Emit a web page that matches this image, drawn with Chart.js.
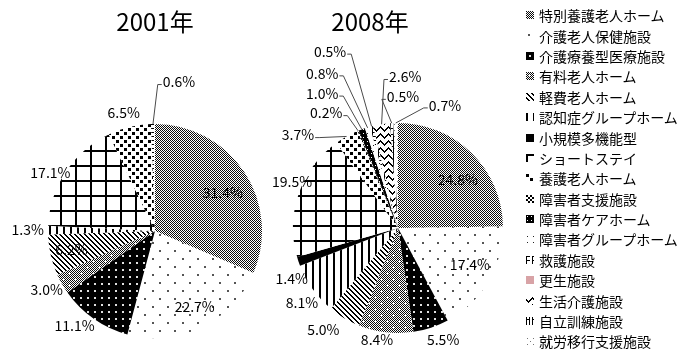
<!DOCTYPE html>
<html>
<head>
<meta charset="utf-8">
<script src="https://cdn.jsdelivr.net/npm/chart.js@4.4.1/dist/chart.umd.min.js"></script>
<style>
  html, body { margin: 0; padding: 0; background: #fff; }
  #wrap { position: relative; width: 696px; height: 351px; overflow: hidden;
          font-family: "Noto Sans CJK JP", sans-serif; }
  #c2001 { position: absolute; left: 0; top: 0; }
  #c2008 { position: absolute; left: 270px; top: 0; }
  #legend { position: absolute; left: 526px; top: 5px; }
  .item { height: 20.4px; display: flex; align-items: center; font-size: 14px;
          color: #000; white-space: nowrap; }
  .item canvas { width: 8px; height: 8px; margin-right: 5px; flex: none; }
</style>
</head>
<body>
<div id="wrap">
  <canvas id="c2001" width="270" height="351"></canvas>
  <canvas id="c2008" width="256" height="351"></canvas>
  <div id="legend"></div>
</div>
<script>
// Facility types, in the order the slices run clockwise from 12 o'clock
const categories = [
  '特別養護老人ホーム', '介護老人保健施設', '介護療養型医療施設', '有料老人ホーム',
  '軽費老人ホーム', '認知症グループホーム', '小規模多機能型', 'ショートステイ',
  '養護老人ホーム', '障害者支援施設', '障害者ケアホーム', '障害者グループホーム',
  '救護施設', '更生施設', '生活介護施設', '自立訓練施設', '就労移行支援施設'
];

// Share of each facility type (%)
const share2001 = [31.4, 22.7, 11.1, 3.0, 6.2, 1.3, 0, 17.1, 6.5, 0, 0, 0, 0.6, 0, 0, 0, 0];
const share2008 = [24.8, 17.4, 5.5, 8.4, 5.0, 8.1, 1.4, 19.5, 3.7, 0.2, 1.0, 0.8, 0.5, 0, 2.6, 0.5, 0.7];

const titles = ['2001年', '2008年'];

// Label placement: [angle nudge from slice middle (deg), distance as a fraction of the radius]
const labelPlace2001 = [[3.7, 0.73], [-1.7, 0.80], [5.4, 1.16], [1.3, 1.15], [0.6, 0.80], [0.3, 1.19], null,
  [-4.4, 1.12], [-1.0, 1.14], null, null, null, [10.2, 1.41], null, null, null, null];
const labelPlace2008 = [[6.7, 0.73], [-3.3, 0.77], [-3.6, 1.15], [4.0, 1.08], [5.6, 1.20], [-2.3, 1.16], [-6.7, 1.12],
  [4.5, 1.10], [-17.8, 1.30], [-9.7, 1.29], [-9.3, 1.47], [-9.2, 1.64], [-6.5, 1.80], null,
  [11.7, 1.44], [5.6, 1.25], [22.2, 1.25]];
// Which labels get a leader line back to their slice
const leader2001 = [12];
const leader2008 = [8, 9, 10, 11, 12, 14, 15, 16];

// ---- pattern tiles ----
function tile(w, h, draw) {
  const c = document.createElement('canvas');
  c.width = w; c.height = h;
  const g = c.getContext('2d');
  g.fillStyle = '#fff';
  g.fillRect(0, 0, w, h);
  draw(g, w, h);
  return c;
}
function dots(g, color, list, s) {
  g.fillStyle = color;
  list.forEach(p => g.fillRect(p[0], p[1], s, s));
}
function checkerBase(g, w, h, dark) {
  g.fillStyle = dark;
  for (let y = 0; y < h; y++) for (let x = 0; x < w; x++) if ((x + y) % 2 === 0) g.fillRect(x, y, 1, 1);
}
function plus(g, cx, cy) {
  g.fillStyle = '#fff';
  g.fillRect(cx - 1, cy, 3, 1);
  g.fillRect(cx, cy - 1, 1, 3);
}

const tiles = [
  tile(2, 2, (g, w, h) => checkerBase(g, w, h, '#0c0c0c')),                       // fine checker
  tile(15, 16, g => dots(g, '#555', [[2, 2], [9, 10]], 2)),                       // sparse dots
  tile(7, 7, g => { g.fillStyle = '#000'; g.fillRect(0, 0, 7, 7); dots(g, '#e0e0e0', [[3, 3]], 2); }),
  tile(12, 12, (g, w, h) => { checkerBase(g, w, h, '#0c0c0c'); plus(g, 3, 3); plus(g, 9, 9); }),
  tile(5, 5, g => { g.fillStyle = '#000';
    for (let y = 0; y < 5; y++) for (let x = 0; x < 5; x++) if (((x - y) % 5 + 5) % 5 < 2) g.fillRect(x, y, 1, 1); }),
  tile(7, 1, g => { g.fillStyle = '#000'; g.fillRect(0, 0, 2, 1); }),             // vertical lines
  tile(1, 1, g => { g.fillStyle = '#000'; g.fillRect(0, 0, 1, 1); }),             // solid
  tile(15, 15, g => { g.fillStyle = '#000'; g.fillRect(0, 0, 15, 2); g.fillRect(0, 0, 2, 15); }),
  tile(8, 8, g => dots(g, '#000', [[0, 0], [4, 4]], 3)),                          // small squares
  tile(4, 4, g => { g.fillStyle = '#000'; g.fillRect(0, 0, 2, 2); g.fillRect(2, 2, 2, 2); }),
  tile(4, 4, g => { g.fillStyle = '#000'; g.fillRect(0, 0, 4, 4); g.fillStyle = '#fff'; g.fillRect(1, 1, 1, 1); }),
  tile(6, 6, g => dots(g, '#222', [[1, 1]], 1)),
  tile(6, 4, g => { g.fillStyle = '#000'; g.fillRect(0, 0, 4, 1); g.fillRect(0, 0, 1, 4); }),
  tile(1, 1, g => { g.fillStyle = '#d8a3a6'; g.fillRect(0, 0, 1, 1); }),
  tile(8, 7, g => { g.fillStyle = '#000';
    for (let x = 0; x < 8; x++) { const y = Math.round(3 + 1.6 * Math.sin(2 * Math.PI * x / 8)); g.fillRect(x, y - 1, 1, 2); } }),
  tile(6, 6, g => { g.fillStyle = '#000'; g.fillRect(0, 0, 1, 6); g.fillRect(3, 0, 1, 6); g.fillRect(0, 2, 4, 1); }),
  tile(6, 6, g => dots(g, '#777', [[1, 1], [4, 4]], 1))
];

const probe = document.createElement('canvas').getContext('2d');
const fills = tiles.map(t => probe.createPattern(t, 'repeat'));

// ---- labels, leader lines and title drawn over each pie ----
function pieNotes(values, place, leaders, title, titleX) {
  return {
    id: 'pieNotes',
    afterDatasetsDraw(chart) {
      const ctx = chart.ctx;
      const arcs = chart.getDatasetMeta(0).data;
      ctx.save();
      ctx.font = '14px "Noto Sans CJK JP", sans-serif';
      ctx.textAlign = 'center';
      ctx.textBaseline = 'middle';
      arcs.forEach((arc, i) => {
        const v = values[i];
        if (!v || !place[i]) return;
        const p = arc.getProps(['x', 'y', 'startAngle', 'endAngle', 'outerRadius'], true);
        const mid = (p.startAngle + p.endAngle) / 2;
        const a = mid + place[i][0] * Math.PI / 180;
        const d = p.outerRadius * place[i][1];
        const lx = p.x + Math.cos(a) * d;
        const ly = p.y + Math.sin(a) * d;
        const text = v.toFixed(1) + '%';
        if (leaders.includes(i)) {
          const w = ctx.measureText(text).width;
          const ex = p.x + Math.cos(mid) * p.outerRadius;
          const ey = p.y + Math.sin(mid) * p.outerRadius;
          const onLeft = lx < ex;
          const sx = onLeft ? lx + w / 2 + 1 : lx - w / 2 - 1;
          const kx = onLeft ? sx + 4 : sx - 4;
          ctx.strokeStyle = '#4a4a4a';
          ctx.lineWidth = 1;
          ctx.beginPath();
          ctx.moveTo(sx, ly + 2.5);
          ctx.lineTo(kx, ly + 2.5);
          ctx.lineTo(ex, ey);
          ctx.stroke();
        }
        ctx.fillStyle = '#000';
        ctx.fillText(text, lx, ly);
      });
      ctx.font = '24px "Noto Sans CJK JP", sans-serif';
      ctx.fillText(title, titleX, 22);
      ctx.restore();
    }
  };
}

function makePie(id, values, padding, notes) {
  return new Chart(document.getElementById(id), {
    type: 'pie',
    data: {
      labels: categories,
      datasets: [{ data: values, backgroundColor: fills, borderWidth: 0, hoverOffset: 0 }]
    },
    options: {
      responsive: false,
      animation: false,
      events: [],
      layout: { padding: padding },
      plugins: { legend: { display: false }, tooltip: { enabled: false } }
    },
    plugins: [notes]
  });
}

makePie('c2001', share2001, { top: 124, bottom: 13, left: 48, right: 8 },
  pieNotes(share2001, labelPlace2001, leader2001, titles[0], 155));
makePie('c2008', share2008, { top: 123, bottom: 18, left: 23, right: 23 },
  pieNotes(share2008, labelPlace2008, leader2008, titles[1], 100));

// ---- legend ----
const legend = document.getElementById('legend');
categories.forEach((name, i) => {
  const row = document.createElement('div');
  row.className = 'item';
  const sw = document.createElement('canvas');
  sw.width = 8; sw.height = 8;
  const g = sw.getContext('2d');
  g.fillStyle = g.createPattern(tiles[i], 'repeat');
  g.fillRect(0, 0, 8, 8);
  const label = document.createElement('span');
  label.textContent = name;
  row.appendChild(sw);
  row.appendChild(label);
  legend.appendChild(row);
});
</script>
</body>
</html>
